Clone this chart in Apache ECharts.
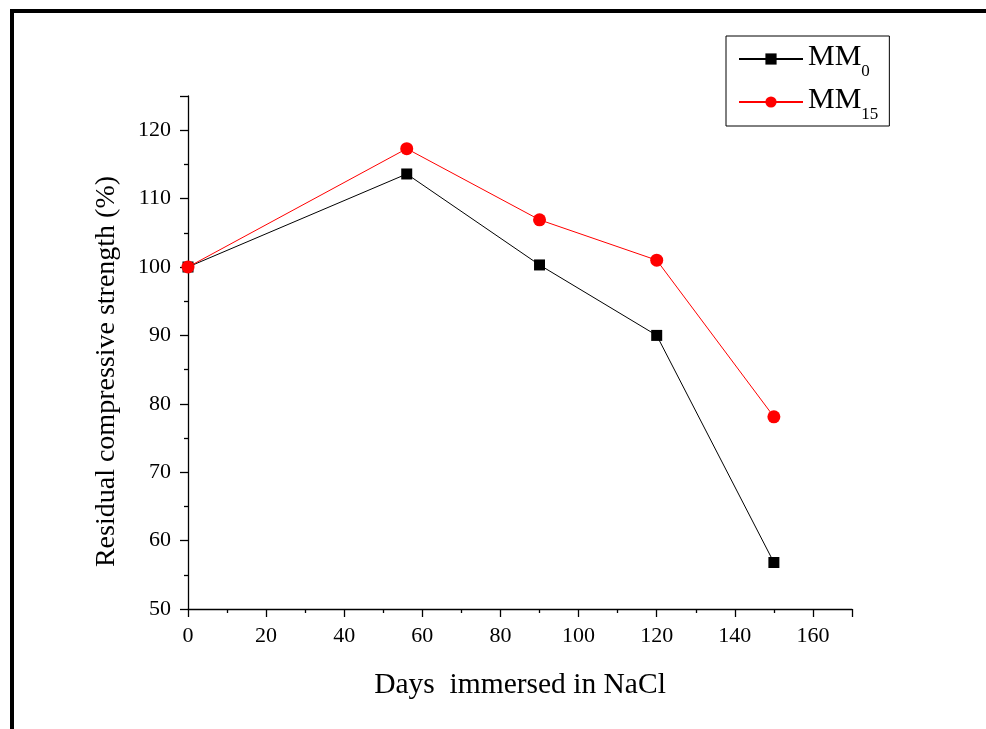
<!DOCTYPE html>
<html><head><meta charset="utf-8">
<script src="https://cdn.jsdelivr.net/npm/echarts@6/dist/echarts.min.js"></script>
<style>html,body{margin:0;padding:0;background:#fff}#c{width:986px;height:729px}</style>
</head><body><div id="c"></div>
<script>
const days = [0, 56, 90, 120, 150];
const mm0 = [100, 113.6, 100.3, 90, 56.8];
const mm15 = [100, 117.3, 106.9, 101, 78.1];
const seriesNames = ['MM0', 'MM15'];
const xName = 'Days  immersed in NaCl';
const yName = 'Residual compressive strength (%)';

const font = 'Liberation Serif';
const chart = echarts.init(document.getElementById('c'));
const axisCommon = {
  axisLine: {show: true, onZero: false, lineStyle: {color: '#000', width: 1.3}},
  axisTick: {show: true, inside: false, length: 8, lineStyle: {color: '#000', width: 1.3}},
  minorTick: {show: true, splitNumber: 2, length: 4, lineStyle: {color: '#000', width: 1.3}},
  splitLine: {show: false},
  axisLabel: {color: '#000', fontFamily: font, fontSize: 22},
  nameTextStyle: {color: '#000', fontFamily: font, fontSize: 28}
};
chart.setOption({
  animation: false,
  backgroundColor: '#fff',
  graphic: [
    {type: 'rect', shape: {x: 10, y: 9, width: 976, height: 4}, style: {fill: '#000'}},
    {type: 'rect', shape: {x: 10, y: 9, width: 4, height: 720}, style: {fill: '#000'}}
  ],
  grid: {left: 188, top: 96, right: 134, bottom: 120},
  legend: {
    orient: 'vertical', left: 726, top: 36,
    padding: [6, 11, 3, 12],
    itemGap: 5,
    itemWidth: 64, itemHeight: 14,
    borderColor: '#000', borderWidth: 1,
    data: seriesNames,
    formatter: function (n) { return '{a|MM}{b|' + n.slice(2) + '}'; },
    textStyle: {
      color: '#000', fontFamily: font,
      rich: {
        a: {fontSize: 30, fontFamily: font, color: '#000', lineHeight: 34, verticalAlign: 'top'},
        b: {fontSize: 17, fontFamily: font, color: '#000', lineHeight: 13, verticalAlign: 'top', padding: [21, 0, 0, 0]}
      }
    }
  },
  xAxis: Object.assign({}, axisCommon, {
    type: 'value', min: 0, max: 170, interval: 20,
    name: xName, nameLocation: 'middle', nameGap: 61,
    nameTextStyle: {color: '#000', fontFamily: font, fontSize: 29.5},
    axisLabel: Object.assign({}, axisCommon.axisLabel, {margin: 16, showMaxLabel: false})
  }),
  yAxis: Object.assign({}, axisCommon, {
    type: 'value', min: 50, max: 125, interval: 10,
    name: yName, nameLocation: 'middle', nameGap: 67,
    nameTextStyle: {color: '#000', fontFamily: font, fontSize: 28, padding: [0, 38, 0, 0]},
    axisLabel: Object.assign({}, axisCommon.axisLabel, {margin: 17, showMaxLabel: false})
  }),
  series: [
    {name: seriesNames[0], type: 'line', data: days.map((d, i) => [d, mm0[i]]),
     symbol: 'rect', symbolSize: 11, lineStyle: {color: '#000', width: 1}, itemStyle: {color: '#000'}},
    {name: seriesNames[1], type: 'line', data: days.map((d, i) => [d, mm15[i]]),
     symbol: 'circle', symbolSize: 13, lineStyle: {color: '#ff0000', width: 1}, itemStyle: {color: '#ff0000'}}
  ]
});
</script></body></html>
